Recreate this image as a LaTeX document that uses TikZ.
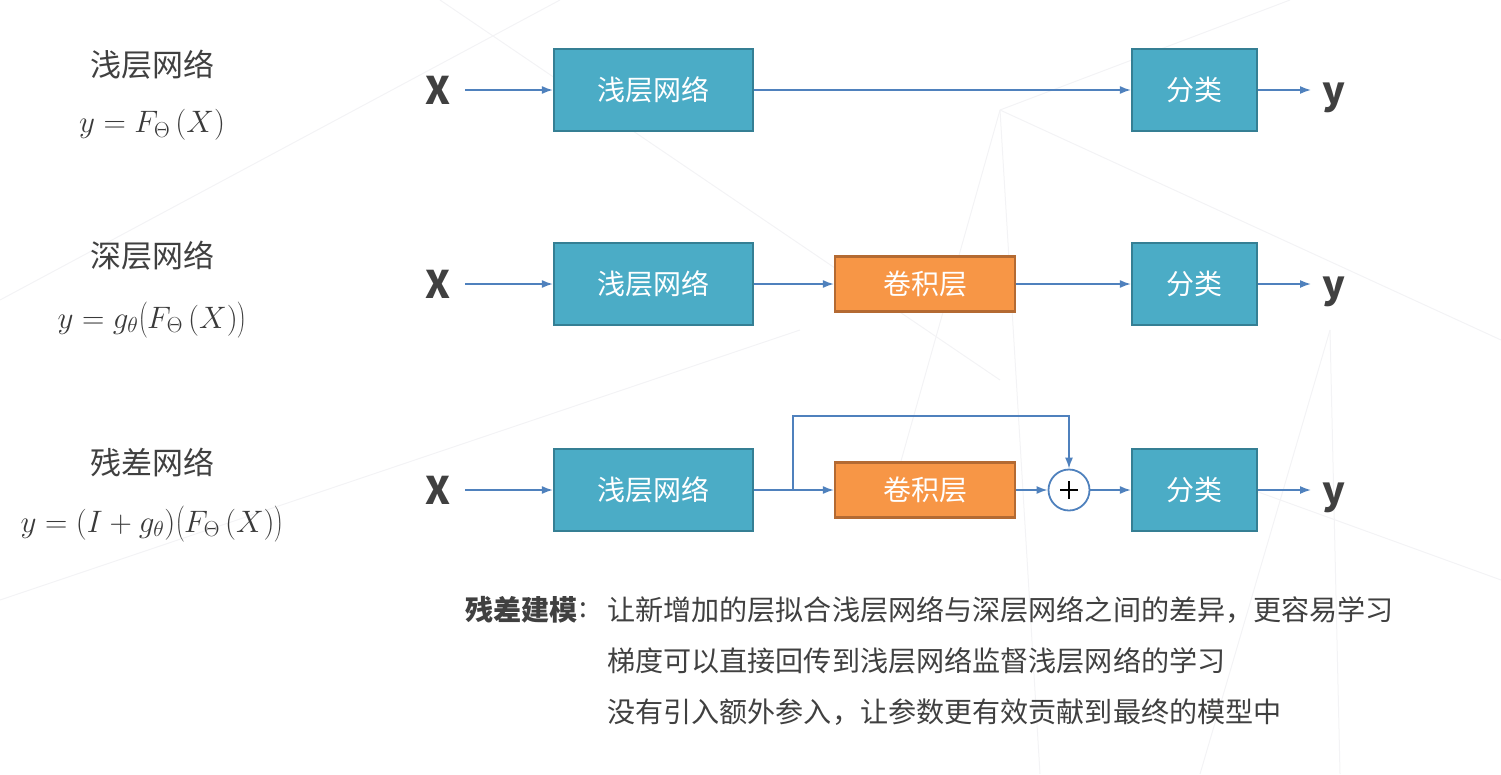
\documentclass[tikz,border=0pt]{standalone}
\usepackage{fix-cm}
\usepackage{fontspec}
\setmainfont{Noto Sans CJK SC}
\usetikzlibrary{arrows.meta}
\definecolor{teal1}{HTML}{4BACC6}
\definecolor{teal2}{HTML}{357F94}
\definecolor{org1}{HTML}{F79646}
\definecolor{org2}{HTML}{B46A32}
\definecolor{arr}{HTML}{4F81BD}
\definecolor{txt}{HTML}{404040}
\definecolor{bgl}{HTML}{F3F3F5}
\newcommand{\tallstrut}{\vrule height 27pt depth 11pt width 0pt}
\begin{document}
\begin{tikzpicture}[x=1pt,y=-1pt,
  tbox/.style={draw=teal2,line width=2.2pt,fill=teal1,text=white,minimum width=199pt,minimum height=82pt,inner sep=0pt,font=\fontsize{28}{30}\selectfont},
  cbox/.style={tbox,minimum width=125pt},
  obox/.style={draw=org2,line width=2.2pt,fill=org1,text=white,minimum width=180pt,minimum height=55pt,inner sep=0pt,font=\fontsize{28}{30}\selectfont},
  conn/.style={draw=arr,line width=1.6pt,-{Latex[length=11pt,width=8pt]}},
  lbl/.style={text=txt,font=\fontsize{31}{34}\selectfont},
  frm/.style={text=txt!90!black,font=\fontsize{31}{34}\selectfont},
  io/.style={text=txt,font=\fontsize{38}{40}\selectfont\bfseries},
  note/.style={text=txt,font=\fontsize{28.1}{30}\selectfont,anchor=west,inner sep=0pt}]
\useasboundingbox (0,0) rectangle (1501,774);
% faint background lines
\begin{scope}[draw=bgl,line width=1pt]
\draw (440,0) -- (1000,380);
\draw (0,300) -- (560,0);
\draw (0,600) -- (800,330);
\draw (1000,110) -- (1501,340);
\draw (1000,110) -- (1290,0);
\draw (1000,110) -- (1040,774);
\draw (1000,110) -- (890,500);
\draw (1330,330) -- (1200,774);
\draw (1330,330) -- (1340,774);
\draw (1170,460) -- (1501,580);
\end{scope}
% left labels
\node[lbl] (l1) at (152,65) {浅层网络};
\node[frm] (f1) at (152,125) {$y = F_{\Theta}\,(X)$};
\node[lbl] (l2) at (152,256) {深层网络};
\node[frm] (f2) at (152,320) {$y = g_{\theta}\!\left(\tallstrut F_{\Theta}\,(X)\right)$};
\node[lbl] (l3) at (152,462) {残差网络};
\node[frm] (f3) at (152,524) {$y = (I + g_{\theta})\!\left(\tallstrut F_{\Theta}\,(X)\right)$};
% row 1
\node[io] (x1) at (438,90) {X};
\node[tbox] (s1) at (653.5,90) {浅层网络};
\node[cbox] (c1) at (1194.5,90) {分类};
\node[io] (y1) at (1334,98) {y};
\draw[conn] (465,90) -- (s1.west);
\draw[conn] (s1.east) -- (c1.west);
\draw[conn] (c1.east) -- (1311,90);
% row 2
\node[io] (x2) at (438,284) {X};
\node[tbox] (s2) at (653.5,284) {浅层网络};
\node[obox] (o2) at (925,284) {卷积层};
\node[cbox] (c2) at (1194.5,284) {分类};
\node[io] (y2) at (1334,292) {y};
\draw[conn] (465,284) -- (s2.west);
\draw[conn] (s2.east) -- (o2.west);
\draw[conn] (o2.east) -- (c2.west);
\draw[conn] (c2.east) -- (1311,284);
% row 3
\node[io] (x3) at (438,490) {X};
\node[tbox] (s3) at (653.5,490) {浅层网络};
\node[obox] (o3) at (925,490) {卷积层};
\node[circle,draw=arr,line width=1.8pt,fill=white,minimum size=41pt,inner sep=0pt] (p3) at (1069,490) {};
\draw[line width=2.2pt] (1060,490) -- (1078,490) (1069,481) -- (1069,499);
\node[cbox] (c3) at (1194.5,490) {分类};
\node[io] (y3) at (1334,498) {y};
\coordinate (b3) at (793,490);
\draw[conn] (465,490) -- (s3.west);
\draw[conn] (s3.east) -- (o3.west);
\draw[conn] (o3.east) -- (p3.west);
\draw[conn] (p3.east) -- (c3.west);
\draw[conn] (c3.east) -- (1311,490);
\draw[conn] (b3) -- (793,416) -- (1069,416) -- (p3.north);
% notes
\node[note,font=\fontsize{28.1}{30}\selectfont\bfseries] (n0) at (465,610) {残差建模};
\node[note] (n0c) at (579,610) {:};
\node[note] (n1) at (607,610) {让新增加的层拟合浅层网络与深层网络之间的差异，更容易学习};
\node[note] (n2) at (607,661) {梯度可以直接回传到浅层网络监督浅层网络的学习};
\node[note] (n3) at (607,712) {没有引入额外参入，让参数更有效贡献到最终的模型中};
\end{tikzpicture}
\end{document}
